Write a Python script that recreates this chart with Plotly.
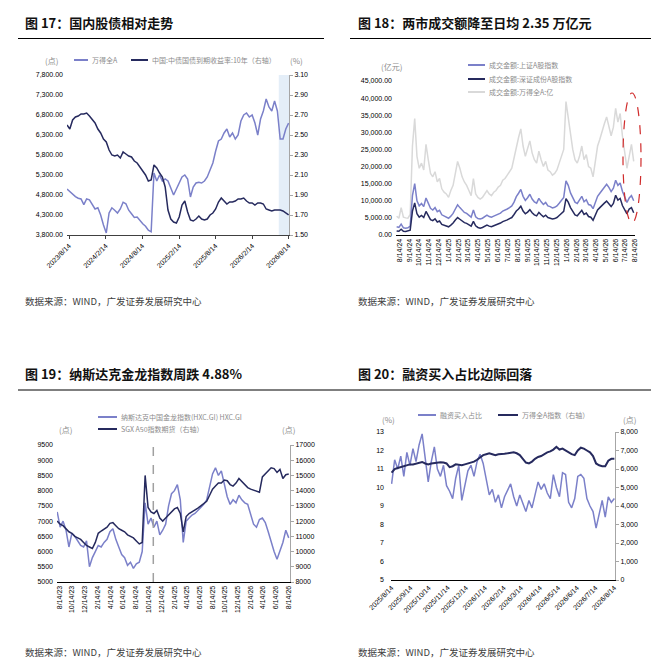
import datetime

import pandas as pd
import plotly.graph_objects as go
from plotly.subplots import make_subplots

WIDTH = 659
HEIGHT = 662

LIGHT = "#7b80c9"
DARK = "#262a5e"
GRAY = "#d9d9d9"
TEXT_GRAY = "#8c8c8c"
FONT = "Liberation Sans, Arial, Noto Sans CJK SC, sans-serif"
CJK_FONT = "Noto Sans CJK SC, sans-serif"
SOURCE_TEXT = "数据来源：WIND，广发证券发展研究中心"

# ---- 图17: 国内股债相对走势 (biweekly samples) ----
P1_START = "2023-08-04"
P1_WINDA = [4950, 4880, 4820, 4760, 4720, 4700, 4560, 4700, 4680, 4560,
            4450, 4480, 4300, 4050, 3850, 4350, 4480, 4420, 4350, 4450,
            4620, 4580, 4420, 4330, 4240, 4250, 4150, 4080, 4020, 3920,
            3880, 5350, 5150, 5300, 5150, 5200, 5150, 4950, 4800, 4950,
            5100, 5250, 5300, 5200, 4750, 5000, 5100, 5120, 5100, 5150,
            5250, 5450, 5600, 5900, 6150, 6200, 6350, 6450, 6250, 6350,
            6200, 6300, 6650, 6800, 6850, 6750, 6800, 6600, 6300, 6700,
            6900, 7200, 7000, 6900, 7150, 6900, 6200, 6200, 6450, 6600]
P1_YIELD = [2.60, 2.56, 2.65, 2.68, 2.69, 2.71, 2.71, 2.72, 2.69, 2.66,
            2.62, 2.56, 2.52, 2.46, 2.43, 2.35, 2.30, 2.29, 2.30, 2.27,
            2.33, 2.31, 2.29, 2.28, 2.24, 2.22, 2.18, 2.14, 2.10, 2.04,
            2.05, 2.20, 2.17, 2.12, 2.08, 1.98, 1.75, 1.66, 1.63, 1.62,
            1.68, 1.80, 1.84, 1.73, 1.65, 1.64, 1.66, 1.69, 1.66, 1.65,
            1.66, 1.70, 1.72, 1.76, 1.83, 1.87, 1.84, 1.81, 1.83, 1.83,
            1.84, 1.86, 1.86, 1.87, 1.84, 1.82, 1.82, 1.80, 1.82, 1.82,
            1.81, 1.76, 1.75, 1.74, 1.75, 1.75, 1.75, 1.74, 1.72, 1.70]
P1_TICK_LABELS = ["2023/8/14", "2024/2/14", "2024/8/14", "2025/2/14",
                  "2025/8/14", "2026/2/14", "2026/8/14"]
P1_SHADE = ("2026-06-26", "2026-08-16")

# ---- 图18: 两市成交额 (weekly samples, 亿元) ----
P2_START = "2024-08-05"
P2_TOTAL = [5500, 4900, 8000, 5200, 5000, 4900, 6000, 26000, 34000, 23000,
            19500, 21000, 19000, 26500, 22000, 18000, 17000, 18500, 15500, 16500,
            13500, 12500, 12000, 11000, 13000, 14500, 18000, 21500, 19500, 17000,
            15500, 14500, 13000, 11500, 16500, 12000, 11000, 10500, 11000, 12000,
            13000, 12000, 11500, 12500, 13000, 14000, 14500, 16000, 16500, 17500,
            18500, 19500, 22500, 26000, 28500, 31000, 26000, 23000, 25000, 27500,
            24000, 22000, 21000, 24500, 22000, 20000, 21500, 19000, 18500, 17500,
            18000, 19000, 21000, 23000, 25000, 39000, 34000, 29000, 25000, 22000,
            21000, 23000, 26000, 22000, 23500, 20000, 19500, 17000, 22000, 26000,
            28000, 30500, 32500, 34500, 32000, 29000, 31500, 37000, 33000, 35500,
            29000, 24000, 19500, 23000, 26500, 21500]
P2_SH = [2400, 2200, 3200, 2100, 2000, 2100, 2600, 11500, 15000, 10000,
         8500, 9200, 8300, 10800, 9300, 7800, 7300, 8000, 6800, 7200,
         5900, 5600, 5300, 4900, 5500, 6300, 7600, 8800, 8000, 7200,
         6600, 6300, 5800, 5200, 7300, 5300, 4800, 4700, 4900, 5300,
         5800, 5400, 5200, 5500, 5800, 6200, 6400, 7000, 7200, 7600,
         8000, 8500, 9600, 11200, 12200, 13300, 11300, 10100, 10900, 11900,
         10500, 9700, 9300, 10700, 9700, 8900, 9500, 8500, 8300, 7900,
         8100, 8500, 9300, 10100, 11000, 15800, 14500, 12300, 10800, 9600,
         9200, 10100, 11300, 9700, 10300, 8900, 8700, 7700, 9700, 11300,
         12200, 13200, 14000, 14800, 13900, 12700, 13700, 16000, 14500, 15200,
         12800, 11000, 9500, 10800, 11500, 10000]
P2_SZ = [1200, 1100, 1700, 1100, 1000, 1100, 1400, 7000, 9400, 6200,
         5200, 5700, 5100, 6900, 5700, 4500, 4200, 4700, 3800, 4100,
         3100, 2800, 2600, 2400, 2900, 3500, 4400, 5100, 4600, 4000,
         3600, 3400, 3000, 2600, 4000, 2700, 2200, 2000, 2200, 2500,
         2900, 2600, 2400, 2700, 2900, 3300, 3500, 3900, 4100, 4400,
         4800, 5100, 6000, 7000, 7600, 8400, 7000, 6200, 6700, 7400,
         6500, 5900, 5600, 6600, 5900, 5300, 5800, 5100, 4900, 4700,
         4800, 5100, 5700, 6300, 6900, 10600, 9600, 8000, 6800, 5900,
         5600, 6300, 7200, 6000, 6400, 5400, 5200, 4300, 6000, 7300,
         8000, 8800, 9300, 9900, 9100, 8300, 9200, 11600, 10200, 10700,
         8600, 7200, 6200, 7600, 8000, 6500]
P2_TICK_LABELS = ["8/14/24", "9/14/24", "10/14/24", "11/14/24", "12/14/24",
                  "1/14/25", "2/14/25", "3/14/25", "4/14/25", "5/14/25",
                  "6/14/25", "7/14/25", "8/14/25", "9/14/25", "10/14/25",
                  "11/14/25", "12/14/25", "1/14/26", "2/14/26", "3/14/26",
                  "4/14/26", "5/14/26", "6/14/26", "7/14/26", "8/14/26"]

# ---- 图19: 纳斯达克金龙指数 / SGX A50 (biweekly samples) ----
P3_START = "2023-08-04"
P3_HXC = [7300, 6800, 7000, 6700, 6150, 6600, 6500, 6350, 6200, 6150,
          6350, 5500, 5800, 6000, 6200, 6150, 6300, 6400, 6650, 6750,
          6400, 6150, 5900, 5800, 5550, 5650, 5450, 5600, 5650, 6000,
          7600, 6900, 7100, 6800, 7000, 6550, 6700, 6900, 7500, 7900,
          8000, 8200, 7700, 6300, 7000, 7100, 7200, 7250, 7350, 7450,
          7550, 7700, 8100, 8550, 8750, 8500, 8650, 8200, 7800, 7550,
          7700, 7600, 7850, 7700, 7600, 7550, 7250, 6900, 6800, 7050,
          7100, 6950, 6650, 6300, 6000, 5750, 6050, 6300, 6700, 6450]
P3_A50 = [12000, 11800, 11700, 11500, 11300, 11200, 11000, 10900, 10800, 10600,
          10400, 10300, 10200, 10600, 11200, 11350, 11500, 11600, 11850, 11900,
          11700, 11500, 11400, 11300, 11100, 11000, 10900, 10700, 10500, 10600,
          15000, 12900, 12600, 12500, 12700, 12200, 12000, 12200, 12400, 12600,
          12800, 12900, 12500, 11300, 12300, 12500, 12600, 12700, 12850, 13000,
          13150, 13300, 13700, 14100, 14300, 14500, 14500, 14700, 14650, 14400,
          14300, 14500, 14800, 14600, 14350, 14200, 14100, 14050, 13950, 13900,
          14900, 15100, 15300, 15500, 15450, 15200, 15400, 14800, 15050, 15100]
P3_TICK_LABELS = ["8/14/23", "10/14/23", "12/14/23", "2/14/24", "4/14/24",
                  "6/14/24", "8/14/24", "10/14/24", "12/14/24", "2/14/25",
                  "4/14/25", "6/14/25", "8/14/25", "10/14/25", "12/14/25",
                  "2/14/26", "4/14/26", "6/14/26", "8/14/26"]
P3_EVENT_DATE = "2024-11-05"

# ---- 图20: 融资买入占比 (5-day samples) ----
P4_START = "2025-08-14"
P4_MARGIN = [10.2, 11.5, 11.0, 11.7, 10.6, 11.9, 11.2, 12.1, 11.4, 12.3,
             12.9, 11.6, 10.3, 11.4, 12.2, 11.0, 10.6, 11.2, 10.1, 9.8,
             9.4, 10.5, 11.2, 9.3, 10.2, 10.9, 11.2, 10.6, 11.4, 11.8,
             11.3, 10.4, 9.6, 9.9, 9.2, 9.6, 8.9, 9.5, 9.9, 10.2,
             9.5, 9.0, 9.6, 9.2, 8.7, 9.3, 8.9, 9.6, 10.3, 9.9,
             10.2, 9.7, 9.4, 10.7, 10.0, 9.5, 10.8, 10.7, 9.2, 8.9,
             9.4, 10.6, 10.7, 10.5, 9.4, 9.0, 8.7, 7.8, 8.6, 9.3,
             8.4, 9.5, 9.2, 9.4]
P4_WINDA = [5800, 6000, 6050, 6100, 6150, 6200, 6250, 6250, 6300, 6350,
            6380, 6300, 6250, 6300, 6330, 6350, 6370, 6350, 6300, 6100,
            6150, 6250, 6230, 6200, 6250, 6300, 6350, 6400, 6500, 6650,
            6750, 6800, 6850, 6800, 6750, 6800, 6800, 6830, 6850, 6880,
            6900, 6850, 6750, 6550, 6350, 6300, 6400, 6550, 6650, 6700,
            6800, 6900, 6950, 7050, 7200, 7050, 7100, 7000, 6900, 6800,
            6750, 7000, 7150, 7100, 7000, 6900, 6700, 6300, 6200, 6150,
            6150, 6450, 6550, 6550]
P4_TICK_LABELS = ["2025/8/14", "2025/9/14", "2025/10/14", "2025/11/14",
                  "2025/12/14", "2026/1/14", "2026/2/14", "2026/3/14",
                  "2026/4/14", "2026/5/14", "2026/6/14", "2026/7/14",
                  "2026/8/14"]


def px_x(x):
    return x / WIDTH


def px_y(y):
    return 1 - y / HEIGHT


def dates(start, values, freq):
    return pd.date_range(start, periods=len(values), freq=freq)


def parse_ticks(labels, fmt):
    return [datetime.datetime.strptime(s, fmt) for s in labels]


def add_text(fig, x, y, text, size, color, xanchor="left", family=CJK_FONT):
    fig.add_annotation(x=px_x(x), y=px_y(y), xref="paper", yref="paper", text=text,
                       showarrow=False, xanchor=xanchor, yanchor="middle",
                       font=dict(size=size, color=color, family=family))


def add_rule(fig, x0, x1, y, color="#000000", width=1.2):
    fig.add_shape(type="line", xref="paper", yref="paper", x0=px_x(x0), x1=px_x(x1),
                  y0=px_y(y), y1=px_y(y), line=dict(color=color, width=width))


def legend_item(fig, x0, x1, y, color, text):
    add_rule(fig, x0, x1, y, color=color, width=2)
    add_text(fig, x1 + 1.5, y, text, 7, TEXT_GRAY)


def panel_header(fig, x, rule_x0, rule_x1, y_title, y_rule, y_source, title):
    add_text(fig, x, y_title, "<b>" + title + "</b>", 13, "#111111")
    add_rule(fig, rule_x0, rule_x1, y_rule)
    add_text(fig, x, y_source, SOURCE_TEXT, 9.5, "#404040")


def line(x, y, color, name, width=1.5):
    return go.Scatter(x=x, y=y, mode="lines", name=name,
                      line=dict(color=color, width=width))


fig = make_subplots(rows=2, cols=2,
                    specs=[[{"secondary_y": True}, {"secondary_y": False}],
                           [{"secondary_y": True}, {"secondary_y": True}]])

tick_font = dict(size=7, color="#000000", family=FONT)

# panel 1
x1 = dates(P1_START, P1_WINDA, "14D")
fig.add_trace(line(x1, P1_WINDA, LIGHT, "万得全A"), row=1, col=1, secondary_y=False)
fig.add_trace(line(dates(P1_START, P1_YIELD, "14D"), P1_YIELD, DARK, "国债10年"),
              row=1, col=1, secondary_y=True)
fig.add_vrect(x0=P1_SHADE[0], x1=P1_SHADE[1], row=1, col=1, fillcolor="#e4eef8",
              opacity=1, line_width=0, layer="below")
fig.update_xaxes(row=1, col=1, domain=[px_x(59), px_x(281)],
                 range=["2023-08-04", "2026-08-16"],
                 tickvals=parse_ticks(P1_TICK_LABELS, "%Y/%m/%d"), ticktext=P1_TICK_LABELS,
                 tickangle=-45, showline=True, linecolor="#404040", ticks="outside",
                 ticklen=3, tickcolor="#404040", showgrid=False, tickfont=tick_font)
fig.update_yaxes(row=1, col=1, secondary_y=False, domain=[px_y(227), px_y(67)],
                 range=[3800, 7800], tick0=3800, dtick=500, tickformat=",.2f",
                 showgrid=False, zeroline=False, tickfont=tick_font, ticklabelstandoff=3)
fig.update_yaxes(row=1, col=1, secondary_y=True, range=[1.5, 3.1], tick0=1.5, dtick=0.2,
                 tickformat=".2f", showgrid=False, zeroline=False, showline=True,
                 linecolor="#a6a6a6", ticks="outside", ticklen=3, tickcolor="#a6a6a6",
                 tickfont=tick_font)

# panel 2
fig.add_trace(line(dates(P2_START, P2_TOTAL, "7D"), P2_TOTAL, GRAY, "万得全A"), row=1, col=2)
fig.add_trace(line(dates(P2_START, P2_SH, "7D"), P2_SH, LIGHT, "上证A股"), row=1, col=2)
fig.add_trace(line(dates(P2_START, P2_SZ, "7D"), P2_SZ, DARK, "深证成份A股"), row=1, col=2)
fig.update_xaxes(row=1, col=2, domain=[px_x(388), px_x(627)],
                 range=["2024-08-03", "2026-08-14"],
                 tickvals=parse_ticks(P2_TICK_LABELS, "%m/%d/%y"), ticktext=P2_TICK_LABELS,
                 tickangle=-90, showline=True, linecolor="#000000", ticks="",
                 showgrid=False, tickfont=tick_font)
fig.update_yaxes(row=1, col=2, domain=[px_y(227), px_y(73)], range=[0, 45000],
                 dtick=5000, tickformat=",.2f", showgrid=False, zeroline=False,
                 tickfont=tick_font, ticklabelstandoff=3)
fig.add_shape(type="circle", xref="paper", yref="paper", x0=px_x(615), x1=px_x(633),
              y0=px_y(215), y1=px_y(85), line=dict(color="#d02c2c", width=1.2, dash="dash"))

# panel 3
fig.add_trace(line(dates(P3_START, P3_HXC, "14D"), P3_HXC, LIGHT, "HXC"),
              row=2, col=1, secondary_y=False)
fig.add_trace(line(dates(P3_START, P3_A50, "14D"), P3_A50, DARK, "A50"),
              row=2, col=1, secondary_y=True)
fig.add_vline(x=P3_EVENT_DATE, row=2, col=1, line_dash="dash", line_color="#a0a0a0",
              line_width=1.5)
fig.update_xaxes(row=2, col=1, domain=[px_x(49), px_x(282)],
                 range=["2023-08-03", "2026-08-20"],
                 tickvals=parse_ticks(P3_TICK_LABELS, "%m/%d/%y"), ticktext=P3_TICK_LABELS,
                 tickangle=-90, showline=True, linecolor="#000000", ticks="",
                 showgrid=False, tickfont=tick_font)
fig.update_yaxes(row=2, col=1, secondary_y=False, domain=[px_y(574), px_y(437)],
                 range=[5000, 9500], dtick=500, tickformat="d", showgrid=False,
                 zeroline=False, tickfont=tick_font, ticklabelstandoff=3)
fig.update_yaxes(row=2, col=1, secondary_y=True, range=[8000, 17000], dtick=1000,
                 tickformat="d", showgrid=False, zeroline=False, showline=True,
                 linecolor="#a6a6a6", ticks="outside", ticklen=3, tickcolor="#a6a6a6",
                 tickfont=tick_font)

# panel 4
fig.add_trace(line(dates(P4_START, P4_MARGIN, "5D"), P4_MARGIN, LIGHT, "融资买入占比"),
              row=2, col=2, secondary_y=False)
fig.add_trace(line(dates(P4_START, P4_WINDA, "5D"), P4_WINDA, DARK, "万得全A指数", width=2),
              row=2, col=2, secondary_y=True)
fig.update_xaxes(row=2, col=2, domain=[px_x(383), px_x(607)],
                 range=["2025-08-13", "2026-08-15"],
                 tickvals=parse_ticks(P4_TICK_LABELS, "%Y/%m/%d"), ticktext=P4_TICK_LABELS,
                 tickangle=-45, showline=True, linecolor="#000000", ticks="",
                 showgrid=False, tickfont=tick_font)
fig.update_yaxes(row=2, col=2, secondary_y=False, domain=[px_y(572), px_y(424)],
                 range=[5, 13], dtick=1, showgrid=False, zeroline=False,
                 tickfont=tick_font, ticklabelstandoff=6)
fig.update_yaxes(row=2, col=2, secondary_y=True, range=[0, 8000], dtick=1000,
                 tickformat=",d", showgrid=False, zeroline=False, showline=True,
                 linecolor="#a6a6a6", ticks="outside", ticklen=3, tickcolor="#a6a6a6",
                 tickfont=tick_font)

# headers, legends and units
panel_header(fig, 15, 10, 316, 15, 30.5, 293, "图 17：国内股债相对走势")
panel_header(fig, 348, 342, 653, 15, 30.5, 293, "图 18：两市成交额降至日均 2.35 万亿元")
panel_header(fig, 15, 10, 330, 366, 382, 644, "图 19：纳斯达克金龙指数周跌 4.88%")
panel_header(fig, 348, 330, 653, 366, 382, 644, "图 20：融资买入占比边际回落")

legend_item(fig, 66, 80, 52, LIGHT, "万得全A")
legend_item(fig, 123, 140, 52, DARK, "中国:中债国债到期收益率:10年（右轴）")
add_text(fig, 43, 52, "(点)", 8, TEXT_GRAY, xanchor="center")
add_text(fig, 288, 52, "(%)", 8, TEXT_GRAY, xanchor="center")

legend_item(fig, 460, 477, 57, LIGHT, "成交金额:上证A股指数")
legend_item(fig, 460, 477, 71, DARK, "成交金额:深证成份A股指数")
legend_item(fig, 460, 477, 84, GRAY, "成交金额:万得全A:亿")
add_text(fig, 383, 58, "(亿元)", 8, TEXT_GRAY, xanchor="center")

legend_item(fig, 90, 109, 409, LIGHT, "纳斯达克中国金龙指数(HXC.GI) HXC.GI")
legend_item(fig, 90, 109, 421, DARK, "SGX A50指数期货（右轴）")
add_text(fig, 57, 421, "(点)", 8, TEXT_GRAY, xanchor="center")
add_text(fig, 280, 421, "(点)", 8, TEXT_GRAY, xanchor="center")

legend_item(fig, 410, 428, 407, LIGHT, "融资买入占比")
legend_item(fig, 490, 510, 407, DARK, "万得全A指数（右轴）")
add_text(fig, 380, 411, "(%)", 8, TEXT_GRAY, xanchor="center")
add_text(fig, 621, 411, "(点)", 8, TEXT_GRAY, xanchor="center")

# keep the pixel layout fixed: no automatic margin growth
fig.update_xaxes(automargin=False)
fig.update_yaxes(automargin=False)
fig.update_layout(width=WIDTH, height=HEIGHT, autosize=False, showlegend=False,
                  margin=dict(l=0, r=0, t=0, b=0), plot_bgcolor="white",
                  paper_bgcolor="white", font=dict(family=FONT))

fig.write_html("out.html")
